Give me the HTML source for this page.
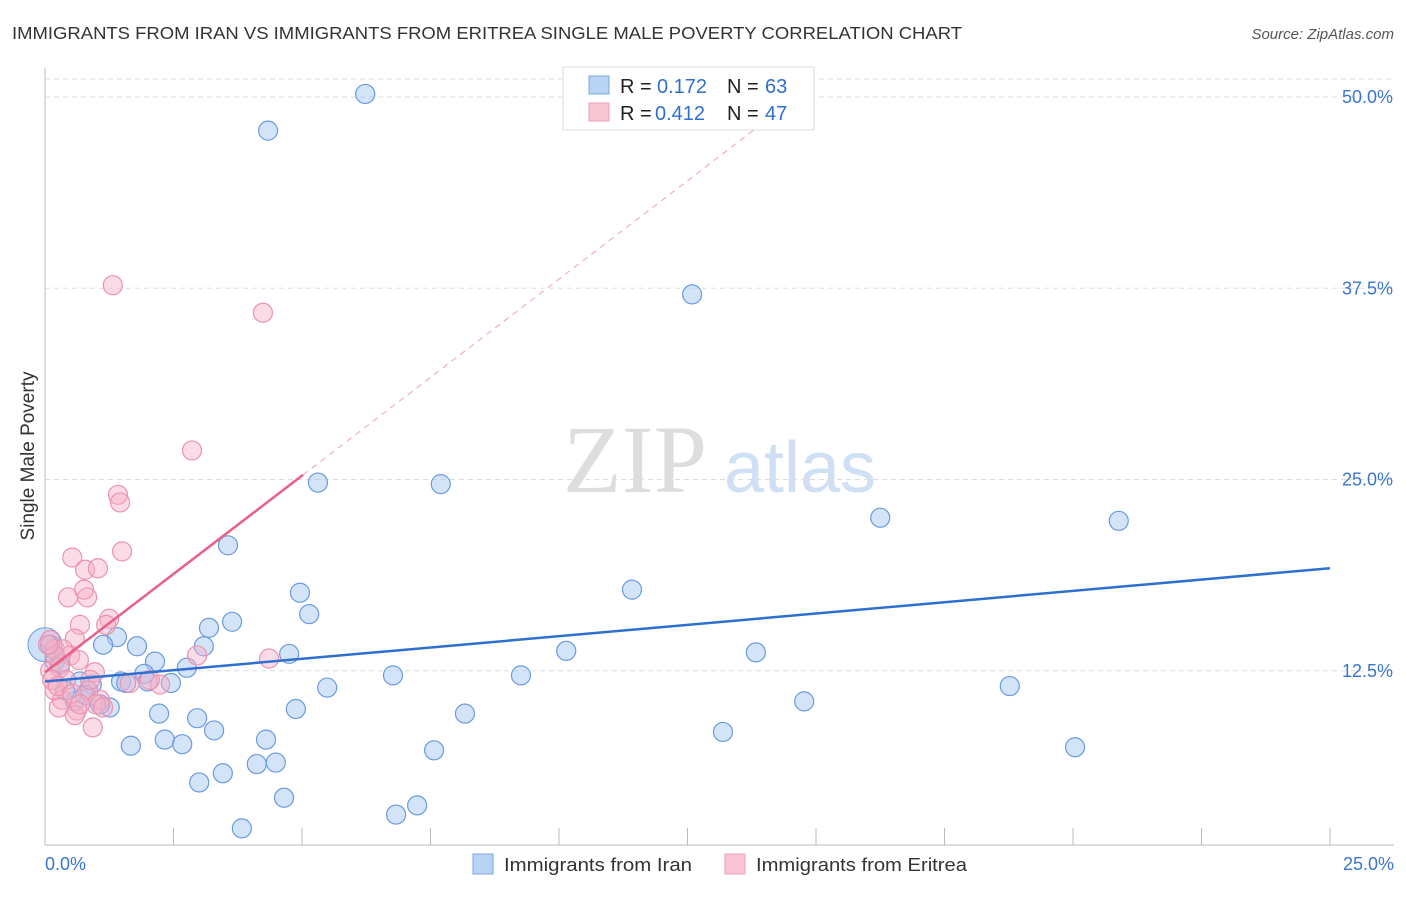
<!DOCTYPE html>
<html><head><meta charset="utf-8"><style>
body{margin:0;background:#fff;width:1406px;height:892px;overflow:hidden;font-family:"Liberation Sans",sans-serif}
</style></head><body>
<svg id="c" width="1406" height="892" xmlns="http://www.w3.org/2000/svg">
<text x="12" y="39" font-size="17.5" fill="#333" textLength="950" lengthAdjust="spacingAndGlyphs">IMMIGRANTS FROM IRAN VS IMMIGRANTS FROM ERITREA SINGLE MALE POVERTY CORRELATION CHART</text>
<text x="1394" y="39" font-size="15" fill="#555" font-style="italic" text-anchor="end">Source: ZipAtlas.com</text>
<text x="635" y="492" font-size="96" fill="#ddd" text-anchor="middle" font-family="Liberation Serif,serif">ZIP</text>
<text x="800" y="492" font-size="72" fill="#cfe0f4" text-anchor="middle">atlas</text>
<g id="grid"></g><g id="axes"></g><g id="marks"></g>
<text transform="translate(34,456) rotate(-90)" font-size="19" fill="#333" text-anchor="middle">Single Male Poverty</text>
<g>
<rect x="563" y="67" width="251" height="63" fill="#fff" stroke="#ddd"/>
<rect x="589" y="76" width="20" height="18" fill="#b9d3f5" stroke="#7aa7e0"/>
<rect x="589" y="103" width="20" height="18" fill="#f9c5d5" stroke="#eea0b8"/>
<text y="93" font-size="20" fill="#222"><tspan x="620">R =</tspan><tspan x="657" fill="#2f6fd0">0.172</tspan><tspan x="727">N =</tspan><tspan x="765" fill="#2f6fd0">63</tspan></text>
<text y="120" font-size="20" fill="#222"><tspan x="620">R =</tspan><tspan x="655" fill="#2f6fd0">0.412</tspan><tspan x="727">N =</tspan><tspan x="765" fill="#2f6fd0">47</tspan></text>
</g>
<g>
<rect x="473" y="854" width="20" height="20" fill="#b9d3f5" stroke="#7aa7e0"/>
<text x="504" y="871" font-size="18" fill="#333" textLength="188" lengthAdjust="spacingAndGlyphs">Immigrants from Iran</text>
<rect x="725" y="854" width="20" height="20" fill="#f9c5d5" stroke="#eea0b8"/>
<text x="756" y="871" font-size="18" fill="#333" textLength="211" lengthAdjust="spacingAndGlyphs">Immigrants from Eritrea</text>
</g>
</svg>
<script>
const yTicks=[12.5,25,37.5,50];
const yTickLabels=["12.5%","25.0%","37.5%","50.0%"];
const xTickLabels=["0.0%","25.0%"];
const iranX=[6.23,4.34,12.59,5.31,7.70,16.25,20.89,3.56,4.96,11.42,5.14,3.64,3.19,1.40,1.79,1.13,3.09,2.14,4.75,10.14,13.83,2.76,1.93,2.45,1.48,1.58,0.91,0.68,2.00,5.49,6.77,9.26,18.77,14.77,1.26,0.58,0.84,4.88,2.22,8.17,2.96,3.29,13.19,2.33,2.67,4.30,1.67,7.57,20.04,4.12,4.49,3.46,3.00,4.65,7.24,6.83,3.83,0.10,0.19,0.29,0.39,0.78,1.07];
const iranY=[50.2,47.8,37.1,24.8,24.7,22.5,22.3,20.7,17.6,17.8,16.2,15.7,15.3,14.7,14.1,14.2,14.1,13.1,13.6,13.8,13.7,12.7,12.3,11.7,11.8,11.7,11.6,11.8,11.8,11.4,12.2,12.2,11.5,10.5,10.1,10.5,11.2,10.0,9.7,9.7,9.4,8.6,8.5,8.0,7.7,8.0,7.6,7.3,7.5,6.4,6.5,5.8,5.2,4.2,3.7,3.1,2.2,14.2,13.1,12.9,11.2,10.9,10.3];
const eritX=[1.32,4.24,2.86,1.42,1.46,1.50,0.53,0.78,1.03,0.45,0.82,0.76,1.25,1.19,0.68,0.58,0.10,0.19,0.49,0.66,0.97,0.10,0.29,0.41,0.19,0.84,1.07,0.33,0.62,0.27,0.99,1.13,0.58,0.93,2.24,2.04,2.96,4.36,0.35,0.19,0.06,0.14,0.25,0.53,0.88,1.65,0.68];
const eritY=[37.7,35.9,26.9,24.0,23.5,20.3,19.9,19.1,19.2,17.3,17.3,17.8,15.9,15.5,15.5,14.6,14.5,13.9,13.5,13.2,12.4,12.5,12.7,11.9,11.2,11.2,10.6,10.6,9.9,10.1,10.3,10.1,9.6,8.8,11.6,11.9,13.5,13.3,13.9,13.5,14.2,11.9,11.5,11.0,11.9,11.7,10.3];
const iranTrend=[11.8,19.2]; // y at x=0 and x=25
const eritTrend=[12.4,2.57]; // intercept, slope
const NS="http://www.w3.org/2000/svg";
const sx=v=>45+v*51.4, sy=v=>862-v*15.3;
function mk(t,a,p){const e=document.createElementNS(NS,t);for(const k in a)e.setAttribute(k,a[k]);document.getElementById(p).appendChild(e);return e;}
let g=mk('line',{x1:45,x2:1394,y1:79,y2:79,stroke:'#ddd','stroke-dasharray':'5,4'},'grid');


yTicks.forEach((t,i)=>{
 const l=mk('line',{x1:45,x2:1394,y1:sy(t),y2:sy(t),stroke:'#ddd','stroke-dasharray':'5,4'},'grid');
 
 
 const tx=mk('text',{x:1393,y:sy(t)+6,'font-size':18,fill:'#3a75d0','text-anchor':'end'},'axes');tx.textContent=yTickLabels[i];
 
 
});
let a=mk('line',{x1:45,x2:45,y1:68,y2:845,stroke:'#bbb'},'axes');


a=mk('line',{x1:45,x2:1394,y1:845,y2:845,stroke:'#bbb'},'axes');


for(let i=0;i<=10;i++){const t=mk('line',{x1:sx(i*2.5),x2:sx(i*2.5),y1:828,y2:845,stroke:'#bbb'},'axes');
 
 }
[[0,'start',45],[25,'end',1394]].forEach((d,i)=>{const t=mk('text',{x:d[2],y:870,'font-size':18,fill:'#3a75d0','text-anchor':d[1]},'axes');t.textContent=xTickLabels[i];
 
 });
let bc=mk('circle',{cx:sx(0),cy:sy(14.2),r:17,fill:'rgba(160,195,240,0.5)',stroke:'#6a9be0'},'marks');


iranX.forEach((x,i)=>{const c=mk('circle',{cx:sx(x),cy:sy(iranY[i]),r:9.5,fill:'rgba(168,200,242,0.5)',stroke:'#6a9be0','stroke-width':1.2},'marks');
 
 });
eritX.forEach((x,i)=>{const c=mk('circle',{cx:sx(x),cy:sy(eritY[i]),r:9.5,fill:'rgba(246,176,198,0.45)',stroke:'#eb93ae','stroke-width':1.2},'marks');
 
 });
let tl=mk('line',{x1:sx(0),y1:sy(iranTrend[0]),x2:sx(25),y2:sy(iranTrend[1]),stroke:'#2f6fd0','stroke-width':2.5},'marks');


const xe=5.02, xd=(50-eritTrend[0])/eritTrend[1];
tl=mk('line',{x1:sx(0),y1:sy(eritTrend[0]),x2:sx(xe),y2:sy(eritTrend[0]+eritTrend[1]*xe),stroke:'#e8608a','stroke-width':2.5},'marks');


tl=mk('line',{x1:sx(xe),y1:sy(eritTrend[0]+eritTrend[1]*xe),x2:sx(xd),y2:sy(50),stroke:'#f0a0b8','stroke-width':1,'stroke-dasharray':'6,5'},'marks');


</script>
</body></html>
